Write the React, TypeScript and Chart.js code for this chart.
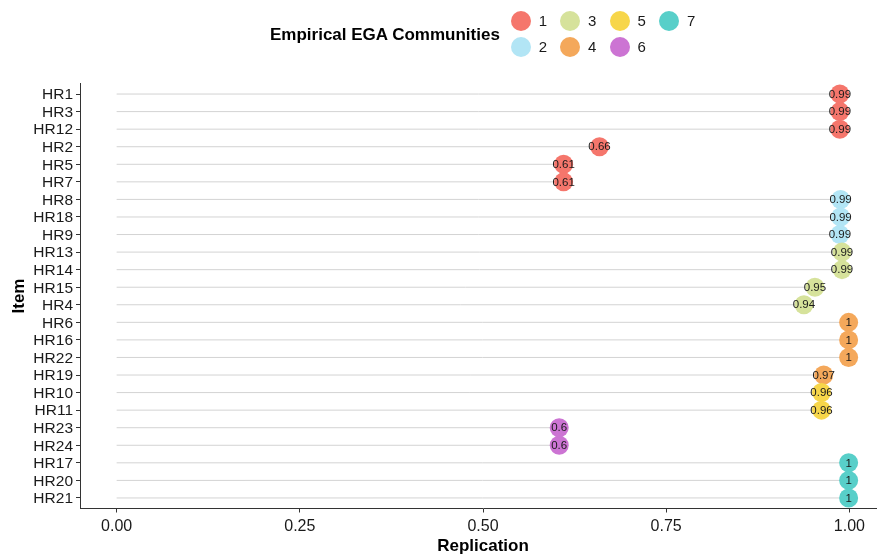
import React, { useEffect, useRef } from 'react';
import { Chart, registerables } from 'chart.js';

Chart.register(...registerables);

const items = ['HR1', 'HR3', 'HR12', 'HR2', 'HR5', 'HR7', 'HR8', 'HR18', 'HR9', 'HR13', 'HR14', 'HR15', 'HR4', 'HR6', 'HR16', 'HR22', 'HR19', 'HR10', 'HR11', 'HR23', 'HR24', 'HR17', 'HR20', 'HR21'];
const replication = [0.987, 0.987, 0.987, 0.659, 0.61, 0.61, 0.988, 0.988, 0.987, 0.99, 0.99, 0.953, 0.938, 0.999, 0.999, 0.999, 0.965, 0.962, 0.962, 0.604, 0.604, 0.999, 0.999, 0.999];
const valueLabels = ['0.99', '0.99', '0.99', '0.66', '0.61', '0.61', '0.99', '0.99', '0.99', '0.99', '0.99', '0.95', '0.94', '1', '1', '1', '0.97', '0.96', '0.96', '0.6', '0.6', '1', '1', '1'];
const community = [1, 1, 1, 1, 1, 1, 2, 2, 2, 3, 3, 3, 3, 4, 4, 4, 4, 5, 5, 6, 6, 7, 7, 7];
const communityNames = ['1', '2', '3', '4', '5', '6', '7'];
const communityColors = ['#F5766C', '#B2E5F5', '#D6E29B', '#F4A85B', '#F7D64A', '#CC74D3', '#58CFC9'];
const xTickValues = [0, 0.25, 0.5, 0.75, 1];
const xTickLabels = ['0.00', '0.25', '0.50', '0.75', '1.00'];
const legendTitle = 'Empirical EGA Communities';
const xTitle = 'Replication';
const yTitle = 'Item';

const FONT = "'Liberation Sans', Arial, Helvetica, sans-serif";

const pointLabelPlugin = {
  id: 'pointLabels',
  afterDatasetsDraw(chart: any) {
    const ctx = chart.ctx;
    ctx.save();
    ctx.font = `11.5px ${FONT}`;
    ctx.fillStyle = '#1a1a1a';
    ctx.textAlign = 'center';
    ctx.textBaseline = 'middle';
    chart.data.datasets.forEach((ds: any, di: number) => {
      if (!ds.isCommunity) return;
      const meta = chart.getDatasetMeta(di);
      meta.data.forEach((el: any, j: number) => {
        const idx = ds.data[j].y;
        ctx.fillText(valueLabels[idx], el.x, el.y + 0.5);
      });
    });
    ctx.restore();
  },
};

export default function App() {
  const canvasRef = useRef<HTMLCanvasElement | null>(null);

  useEffect(() => {
    if (!canvasRef.current) return;
    Chart.defaults.font.family = FONT;

    const segData: any[] = [];
    items.forEach((_, i) => {
      segData.push({ x: 0, y: i }, { x: replication[i], y: i }, { x: 0, y: null });
    });

    const datasets: any[] = communityNames.map((name, c) => ({
      type: 'scatter',
      label: name,
      isCommunity: true,
      data: items
        .map((_, i) => (community[i] === c + 1 ? { x: replication[i], y: i } : null))
        .filter((d) => d !== null),
      backgroundColor: communityColors[c],
      borderColor: communityColors[c],
      borderWidth: 0,
      pointRadius: 9.5,
      pointHoverRadius: 9.5,
      order: 7 - c,
    }));
    datasets.push({
      type: 'line',
      label: 'segments',
      isCommunity: false,
      data: segData,
      borderColor: '#d3d3d3',
      borderWidth: 1,
      pointRadius: 0,
      showLine: true,
      spanGaps: false,
      order: 100,
    });

    const chart = new Chart(canvasRef.current, {
      type: 'scatter',
      data: { datasets },
      plugins: [pointLabelPlugin],
      options: {
        animation: false,
        responsive: false,
        events: [],
        layout: { autoPadding: false, padding: { top: 83.5, left: 0, right: 0, bottom: 0 } },
        plugins: { legend: { display: false }, tooltip: { enabled: false } },
        scales: {
          x: {
            type: 'linear',
            min: -0.05,
            max: 1.05,
            afterBuildTicks: (s: any) => {
              s.ticks = xTickValues.map((v) => ({ value: v }));
            },
            afterFit: (s: any) => {
              s.height = 47.5;
              s.paddingRight = 0;
              s.paddingLeft = 0;
            },
            ticks: {
              callback: (_v: any, i: number) => xTickLabels[i],
              font: { size: 16 },
              color: '#1a1a1a',
              padding: 4,
              maxRotation: 0,
              autoSkip: false,
            },
            grid: { drawOnChartArea: false, drawTicks: true, tickLength: 4, color: '#333333' },
            border: { display: true, color: '#333333', width: 1 },
            title: {
              display: true,
              text: xTitle,
              font: { size: 17, weight: 'bold' },
              color: '#000000',
              padding: { top: 0, bottom: -1 },
            },
          },
          y: {
            type: 'linear',
            reverse: true,
            min: -0.6,
            max: 23.6,
            afterBuildTicks: (s: any) => {
              s.ticks = items.map((_, i) => ({ value: i }));
            },
            afterFit: (s: any) => {
              s.width = 80;
              s.paddingTop = 0;
              s.paddingBottom = 0;
            },
            ticks: {
              callback: (_v: any, i: number) => items[i],
              font: { size: 15.5 },
              color: '#1a1a1a',
              padding: 3,
              labelOffset: 1,
              autoSkip: false,
            },
            grid: { drawOnChartArea: false, drawTicks: true, tickLength: 4, color: '#333333' },
            border: { display: true, color: '#333333', width: 1 },
            title: {
              display: true,
              text: yTitle,
              font: { size: 17, weight: 'bold' },
              color: '#000000',
              padding: { top: 9, bottom: 0 },
            },
          },
        },
      } as any,
    });
    return () => chart.destroy();
  }, []);

  const colX = (c: number) => 510.7 + c * 49.4;
  const rowY = (r: number) => 21 + r * 25.6;

  return (
    <div style={{ position: 'absolute', left: 0, top: 0, width: 877, height: 556, overflow: 'hidden', background: '#ffffff', fontFamily: FONT }}>
      <canvas ref={canvasRef} width={886} height={556} style={{ display: 'block', width: 886, height: 556 }} />
      <div
        style={{
          position: 'absolute',
          left: 270,
          top: 25,
          fontSize: 17,
          lineHeight: '20px',
          fontWeight: 'bold',
          color: '#000',
          whiteSpace: 'nowrap',
        }}
      >
        {legendTitle}
      </div>
      {communityNames.map((name, i) => {
        const col = Math.floor(i / 2);
        const row = i % 2;
        return (
          <div key={name}>
            <div
              style={{
                position: 'absolute',
                left: colX(col),
                top: rowY(row) - 10,
                width: 20,
                height: 20,
                borderRadius: '50%',
                background: communityColors[i],
              }}
            />
            <div
              style={{
                position: 'absolute',
                left: colX(col) + 28,
                top: rowY(row) - 9,
                fontSize: 15,
                lineHeight: '18px',
                color: '#1a1a1a',
              }}
            >
              {name}
            </div>
          </div>
        );
      })}
    </div>
  );
}
